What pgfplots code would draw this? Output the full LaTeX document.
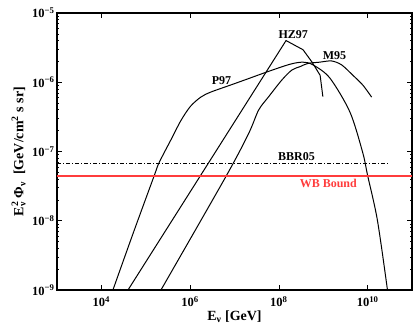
\documentclass[border=0pt]{standalone}
\usepackage{fontspec}
\setmainfont{Liberation Serif}
\usepackage{pgfplots}
\pgfplotsset{compat=1.18}
\definecolor{wbred}{RGB}{255,60,60}
\begin{document}
\begin{tikzpicture}
\path[use as bounding box] (-57pt,-42pt) rectangle (358pt,290pt);
\begin{axis}[
  at={(0,0)}, anchor=south west,
  scale only axis, width=355pt, height=277pt,
  xmode=log, ymode=log,
  xmin=1e3, xmax=1e11, ymin=1e-9, ymax=1e-5,
  font=\bfseries\fontsize{12}{14}\selectfont,
  xtick={1e4,1e6,1e8,1e10},
  xticklabels={10\textsuperscript{4},10\textsuperscript{6},10\textsuperscript{8},10\textsuperscript{10}},
  minor xtick={},
  ytick={1e-9,1e-8,1e-7,1e-6,1e-5},
  yticklabels={10\textsuperscript{−9},10\textsuperscript{−8},10\textsuperscript{−7},10\textsuperscript{−6},10\textsuperscript{−5}},
  tick label style={font=\bfseries\fontsize{12.5}{14}\selectfont},
  xticklabel style={yshift=-3pt},
  yticklabel style={xshift=1pt},
  major tick length=5pt, minor tick length=2.5pt,
  tick style={black, line width=0.7pt},
  axis line style={line width=1.4pt},
  xlabel={E\textsubscript{ν} [GeV]},
  ylabel={E\rlap{\textsuperscript{2}}\textsubscript{ν} Φ\textsubscript{ν}\ \ [GeV/cm\textsuperscript{2} s sr]},
  label style={font=\bfseries\fontsize{14}{16}\selectfont},
  xlabel style={at={(axis description cs:0.5,-0.0975)}, anchor=center},
  ylabel style={at={(axis description cs:-0.108,0.5)}, anchor=center},
  clip=true,
]
% BBR05
\addplot[black, line width=1pt, dash pattern=on 4pt off 2pt on 1pt off 2pt] coordinates {(1e3,6.8e-8) (2.8e10,6.8e-8)};
% P97
\addplot[black, line width=1pt, smooth, tension=0.5] coordinates {
 (1.82e4,1.0e-9) (5.2e4,6.6e-9) (1.55e5,4.47e-8) (2.0e5,6.9e-8) (3.7e5,1.48e-7)
 (6.2e5,2.8e-7) (1.02e6,4.5e-7) (1.74e6,6.1e-7) (2.9e6,7.2e-7) (8.1e6,9.1e-7)
 (2.0e7,1.12e-6) (5.4e7,1.41e-6) (1.78e8,1.82e-6) (3.5e8,1.95e-6) (5.9e8,1.78e-6)
 (1.41e9,1.15e-6) (4.0e9,3.7e-7) (7.8e9,9.5e-8) (1.0e10,4.5e-8) (1.66e10,1.02e-8)
 (2.8e10,1.0e-9)};
% HZ97
\addplot[black, line width=1pt] coordinates {
 (3.98e4,1.0e-9) (1.45e8,4.0e-6) (3.5e8,2.95e-6) (5.6e8,1.95e-6) (8.5e8,1.26e-6) (9.8e8,6.2e-7)};
% M95
\addplot[black, line width=1pt, smooth, tension=0.5] coordinates {
 (2.2e5,1.0e-9) (6.5e6,4.43e-8) (2.09e7,1.83e-7) (3.5e7,3.97e-7) (5.9e7,6.2e-7)
 (1.17e8,1.08e-6) (1.96e8,1.50e-6) (3.0e8,1.68e-6) (4.5e8,1.87e-6) (8.3e8,1.95e-6)
 (1.54e9,2.03e-6) (2.6e9,1.78e-6) (4.6e9,1.27e-6) (7.8e9,9.1e-7) (1.23e10,6.1e-7)};
% WB bound
\addplot[draw=wbred, line width=2pt] coordinates {(1e3,4.5e-8) (1e11,4.5e-8)};
\node at (axis cs:2.1e8,4.9e-6) {HZ97};
\node at (axis cs:1.8e9,2.45e-6) {M95};
\node at (axis cs:5.1e6,1.07e-6) {P97};
\node at (axis cs:2.5e8,8.5e-8) {BBR05};
\node[text=wbred] at (axis cs:1.3e9,3.5e-8) {WB Bound};
\end{axis}
\end{tikzpicture}
\end{document}
